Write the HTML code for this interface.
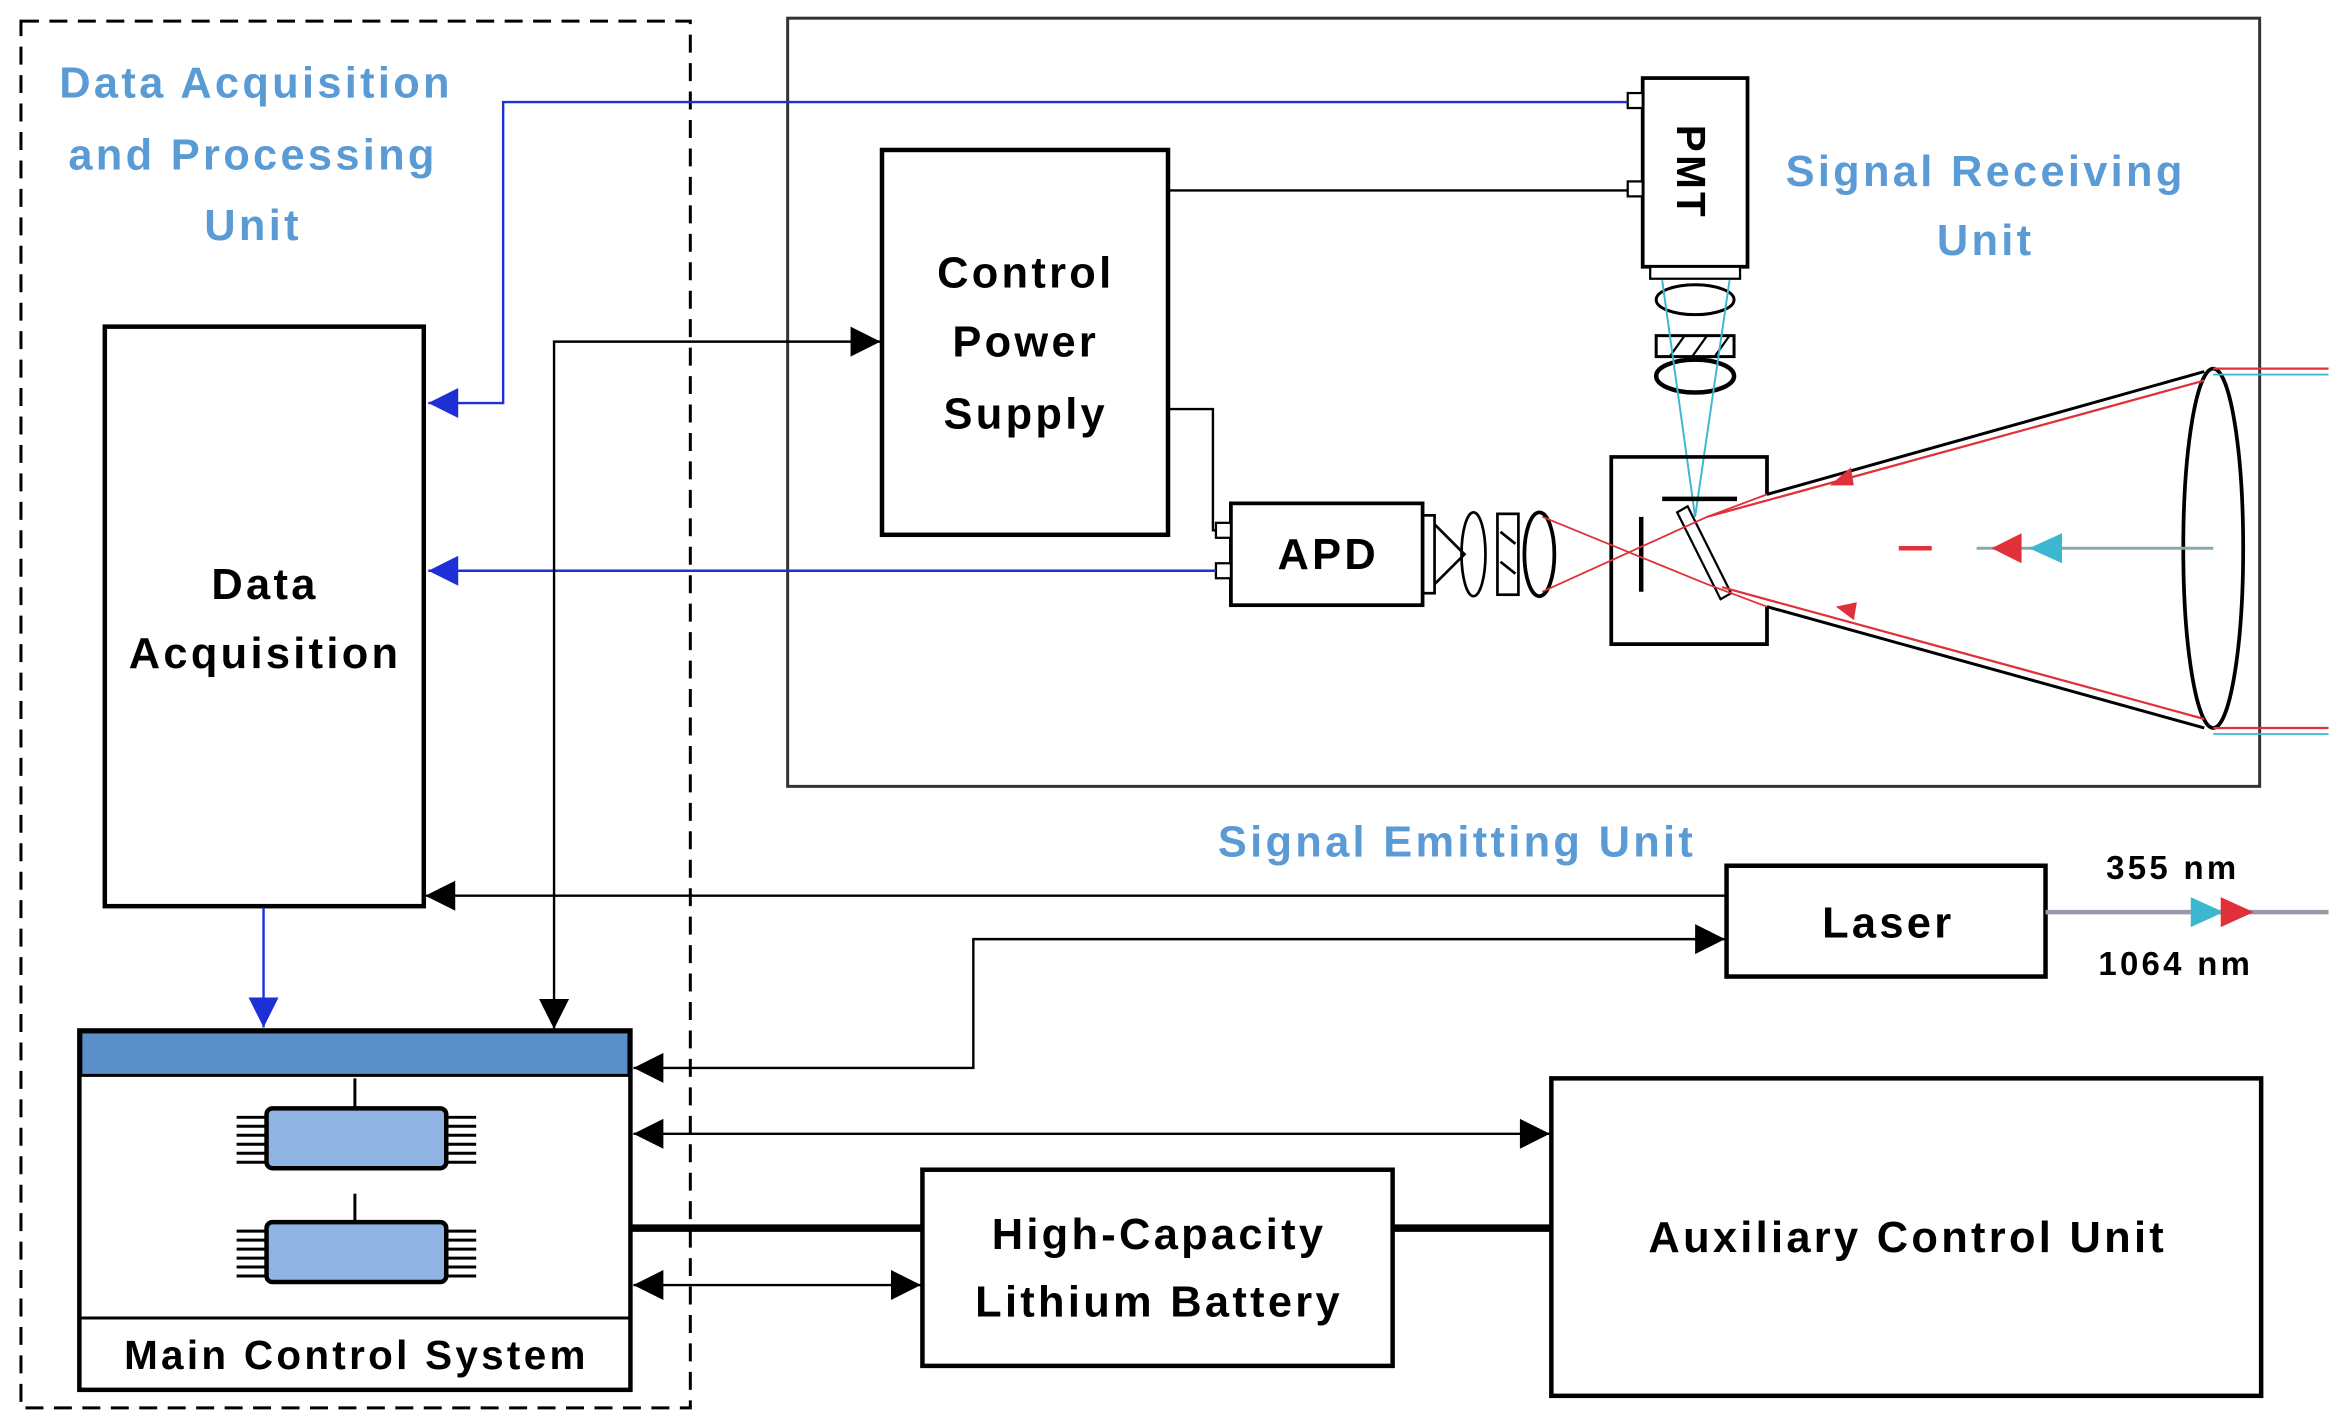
<!DOCTYPE html>
<html><head><meta charset="utf-8"><style>html,body{margin:0;padding:0;background:#fff}svg{display:block}text{font-family:"Liberation Sans",sans-serif;font-weight:bold;letter-spacing:2.2px}</style></head>
<body>
<svg width="2348" height="1426" viewBox="0 0 1568 952" xmlns="http://www.w3.org/2000/svg">
<defs>
<marker id="k" viewBox="0 0 10 10" markerWidth="30" markerHeight="20" refX="10" refY="5" orient="auto-start-reverse" markerUnits="userSpaceOnUse"><path d="M0,0 L10,5 L0,10z" fill="#000"/></marker>
<marker id="b" viewBox="0 0 10 10" markerWidth="30" markerHeight="20" refX="10" refY="5" orient="auto-start-reverse" markerUnits="userSpaceOnUse"><path d="M0,0 L10,5 L0,10z" fill="#1f2fd6"/></marker>
</defs>
<rect width="1568" height="952" fill="#fff"/>
<rect x="14" y="14" width="447" height="926" fill="none" stroke="#000" stroke-width="2" stroke-dasharray="12,7"/>
<g fill="#5b9bd5" font-size="29" text-anchor="middle">
<text x="171" y="65">Data Acquisition</text>
<text x="169" y="113">and Processing</text>
<text x="169" y="160">Unit</text>
<text x="1326" y="124">Signal Receiving</text>
<text x="1326" y="170">Unit</text>
<text x="973" y="572">Signal Emitting Unit</text>
</g>
<g fill="none" stroke="#000" stroke-width="3">
<rect x="70" y="218" width="213" height="387"/>
<rect x="589" y="100" width="191" height="257"/>
<rect x="822" y="336" width="128" height="68" stroke-width="2.5"/>
<rect x="1153" y="578" width="213" height="74"/>
<rect x="616" y="781" width="314" height="131"/>
<rect x="1036" y="720" width="474" height="212"/>
<rect x="53" y="688" width="368" height="240"/>
</g>
<rect x="526" y="12" width="983" height="513" fill="none" stroke="#333" stroke-width="2"/>
<rect x="54" y="689" width="366" height="29" fill="#5b8fc9" stroke="#000" stroke-width="2"/>
<line x1="53" y1="880" x2="421" y2="880" stroke="#000" stroke-width="2"/>
<g font-size="29" fill="#000" text-anchor="middle">
<text x="177" y="400">Data</text>
<text x="177" y="446">Acquisition</text>
<text x="685" y="192">Control</text>
<text x="685" y="238">Power</text>
<text x="685" y="286">Supply</text>
<text x="887" y="380">APD</text>
<text x="1261" y="626">Laser</text>
<text x="774" y="834">High-Capacity</text>
<text x="774" y="879">Lithium Battery</text>
<text x="1274" y="836">Auxiliary Control Unit</text>
<text x="238" y="914" font-size="27">Main Control System</text>
<text x="1451" y="587" font-size="22">355 nm</text>
<text x="1453" y="651" font-size="22">1064 nm</text>
</g>
<g>
<g stroke="#000" stroke-width="2"><line x1="237" y1="720" x2="237" y2="740"/>
<path d="M158,746h20M158,752h20M158,758h20M158,764h20M158,770h20M158,776h20M298,746h20M298,752h20M298,758h20M298,764h20M298,770h20M298,776h20"/>
<line x1="237" y1="797" x2="237" y2="817"/>
<path d="M158,822h20M158,828h20M158,834h20M158,840h20M158,846h20M158,852h20M298,822h20M298,828h20M298,834h20M298,840h20M298,846h20M298,852h20"/></g>
<rect x="178" y="740" width="120" height="40" rx="4" fill="#8fb4e3" stroke="#000" stroke-width="3"/>
<rect x="178" y="816" width="120" height="40" rx="4" fill="#8fb4e3" stroke="#000" stroke-width="3"/>
</g>
<rect x="1097" y="52" width="70" height="126" fill="#fff" stroke="#000" stroke-width="2.5"/>
<rect x="1102" y="178" width="60" height="8" fill="#fff" stroke="#000" stroke-width="1.5"/>
<text x="0" y="0" font-size="27" transform="translate(1120,115) rotate(90)" text-anchor="middle">PMT</text>
<rect x="1087" y="62" width="10" height="10" fill="#fff" stroke="#000" stroke-width="1.5"/>
<rect x="1087" y="121" width="10" height="10" fill="#fff" stroke="#000" stroke-width="1.5"/>
<rect x="812" y="349" width="10" height="10" fill="#fff" stroke="#000" stroke-width="1.5"/>
<rect x="812" y="376" width="10" height="10" fill="#fff" stroke="#000" stroke-width="1.5"/>
<g fill="none" stroke="#000" stroke-width="2">
<ellipse cx="1132" cy="200" rx="26" ry="10"/>
<rect x="1106" y="224" width="52" height="14"/>
<path d="M1115,238l10,-14M1130,238l10,-14M1145,238l10,-14" stroke-width="1.5"/>
<ellipse cx="1132" cy="251" rx="26" ry="11" stroke-width="3"/>
</g>
<g stroke="#3cb7cf" stroke-width="1.3" fill="none"><path d="M1110,187L1132,345M1155,187L1132,345"/></g>
<path d="M1180,330 V305 H1076 V430 H1180 V405" fill="none" stroke="#000" stroke-width="2.5"/>
<line x1="1110" y1="333" x2="1160" y2="333" stroke="#000" stroke-width="3"/>
<line x1="1096" y1="345" x2="1096" y2="395" stroke="#000" stroke-width="3"/>
<path d="M1120,342 L1127,338 L1156,396 L1149,400z" fill="#fff" stroke="#000" stroke-width="1.5"/>
<g fill="none" stroke="#000" stroke-width="1.8">
<rect x="950" y="344" width="8" height="52"/>
<ellipse cx="984" cy="370" rx="8" ry="28"/>
<rect x="1000" y="343" width="14" height="54"/>
<path d="M1002,355l10,8M1002,375l10,8"/>
<ellipse cx="1028" cy="370" rx="10" ry="28" stroke-width="2.5"/>
<path d="M958,350L978,370L958,390"/>
</g>
<g stroke="#e0303a" stroke-width="1.2" fill="none"><path d="M1030,345L1140,390M1030,395L1140,345M1140,345L1180,330M1140,390L1180,405"/></g>
<g stroke="#000" stroke-width="2" fill="none">
<path d="M1180,330L1472,248M1180,405L1472,486"/>
<ellipse cx="1478" cy="366" rx="20" ry="120" stroke-width="2.5"/>
</g>
<g stroke="#e0303a" stroke-width="1.5" fill="none"><path d="M1140,345L1472,254M1150,392L1472,480M1478,246H1555M1478,486H1555"/></g>
<g stroke="#3cb7cf" stroke-width="1.2" fill="none"><path d="M1478,250H1555M1478,490H1555"/></g>
<path d="M1222,324l14,-12l2,12z M1226,405l14,-3l-2,12z" fill="#e0303a"/>
<line x1="1268" y1="366" x2="1290" y2="366" stroke="#e0303a" stroke-width="3"/>
<line x1="1320" y1="366" x2="1478" y2="366" stroke="#8aa" stroke-width="2"/>
<path d="M1330,366l20,-10v20z" fill="#e0303a"/>
<path d="M1355,366l22,-10v20z" fill="#3cb7cf"/>
<line x1="1366" y1="609" x2="1555" y2="609" stroke="#99a" stroke-width="3"/>
<path d="M1485,609l-22,-10v20z" fill="#3cb7cf"/>
<path d="M1505,609l-22,-10v20z" fill="#e0303a"/>
<g fill="none" stroke-width="1.6">
<path d="M1087,68H336V269H286" stroke="#1f2fd6" marker-end="url(#b)"/>
<path d="M812,381H286" stroke="#1f2fd6" marker-end="url(#b)"/>
<path d="M176,606V686" stroke="#1f2fd6" marker-end="url(#b)"/>
<path d="M780,127H1087" stroke="#000"/>
<path d="M780,273H810V354H812" stroke="#000"/>
<path d="M588,228H370V687" stroke="#000" marker-start="url(#k)" marker-end="url(#k)"/>
<path d="M1153,598H284" stroke="#000" marker-end="url(#k)"/>
<path d="M423,713H650V627H1152" stroke="#000" marker-start="url(#k)" marker-end="url(#k)"/>
<path d="M423,757H1035" stroke="#000" marker-start="url(#k)" marker-end="url(#k)"/>
<path d="M423,858H615" stroke="#000" marker-start="url(#k)" marker-end="url(#k)"/>
<path d="M421,820H616M930,820H1036" stroke="#000" stroke-width="5"/>
</g>
</svg>
</body></html>
